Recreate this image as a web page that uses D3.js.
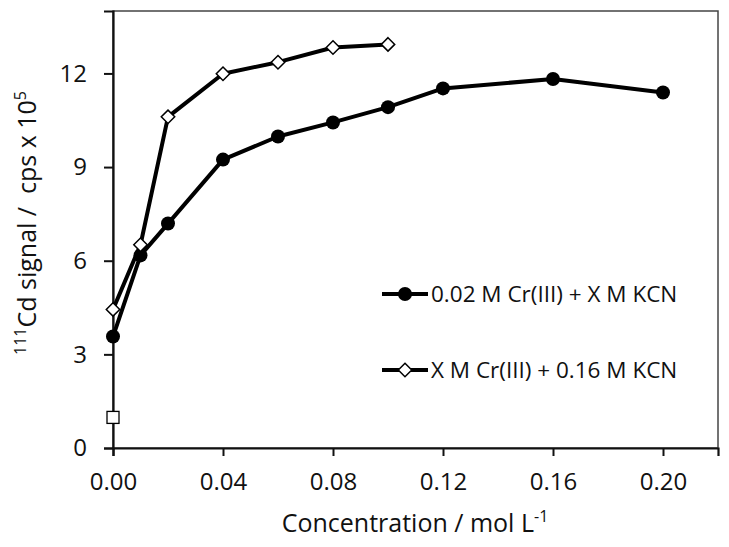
<!DOCTYPE html>
<html>
<head>
<meta charset="utf-8">
<script src="https://cdn.jsdelivr.net/npm/d3@7"></script>
<style>
body { margin:0; background:#fff; }
svg { font-family: "Open Sans", sans-serif; }
</style>
</head>
<body>
<svg id="chart" width="729" height="547"></svg>
<script>
/** data **/
var concA = [0, 0.01, 0.02, 0.04, 0.06, 0.08, 0.10, 0.12, 0.16, 0.20];
var signalA = [3.57, 6.17, 7.19, 9.24, 9.98, 10.43, 10.92, 11.52, 11.82, 11.39];
var concB = [0, 0.01, 0.02, 0.04, 0.06, 0.08, 0.10];
var signalB = [4.44, 6.51, 10.61, 11.99, 12.36, 12.83, 12.93];
var blankConc = [0];
var blankSignal = [0.98];
var xTicks = [0, 0.04, 0.08, 0.12, 0.16, 0.20];
var yTicks = [0, 3, 6, 9, 12];
var legendLabels = ["0.02 M Cr(III) + X M KCN", "X M Cr(III) + 0.16 M KCN"];

var svg = d3.select("#chart");
var pLeft = 113, pRight = 718, pTop = 11, pBottom = 448;

var x = d3.scaleLinear().domain([0, 0.22]).range([pLeft, pRight]);
var y = d3.scaleLinear().domain([0, 14]).range([pBottom, pTop]);

// frame
svg.append("rect")
	.attr("x", pLeft).attr("y", pTop)
	.attr("width", pRight - pLeft).attr("height", pBottom - pTop)
	.attr("fill", "none").attr("stroke", "#444").attr("stroke-width", 1.5);

// axes
var xAxis = svg.append("g")
	.attr("transform", "translate(0," + pBottom + ")")
	.call(d3.axisBottom(x).tickValues(xTicks).tickFormat(d3.format(".2f")).tickSizeOuter(0).tickSize(8).tickPadding(17));
var yAxis = svg.append("g")
	.attr("transform", "translate(" + pLeft + ",0)")
	.call(d3.axisLeft(y).tickValues(yTicks).tickSizeOuter(0).tickSize(9).tickPadding(17));

[xAxis, yAxis].forEach(function(a) {
	a.select(".domain").attr("stroke", "#111").attr("stroke-width", 2.2);
	a.selectAll(".tick line").attr("stroke", "#111").attr("stroke-width", 2);
	a.selectAll(".tick text").attr("font-size", 24).attr("fill", "#111")
		.attr("font-family", "Open Sans, sans-serif");
});

// titles
svg.append("text")
	.attr("x", 415).attr("y", 532)
	.attr("text-anchor", "middle").attr("font-size", 25).attr("fill", "#111")
	.html('Concentration / mol L<tspan dy="-10" font-size="16">-1</tspan>');

svg.append("text")
	.attr("transform", "translate(36," + 223 + ") rotate(-90)")
	.attr("text-anchor", "middle").attr("font-size", 25).attr("fill", "#111")
	.html('<tspan dy="-10" font-size="16">111</tspan><tspan dy="10">Cd signal /\u00a0 cps x 10</tspan><tspan dy="-10" font-size="16">5</tspan>');

var line = d3.line()
	.x(function(d) { return x(d[0]); })
	.y(function(d) { return y(d[1]); });

var ptsA = d3.zip(concA, signalA);
var ptsB = d3.zip(concB, signalB);

svg.append("path").datum(ptsB).attr("d", line)
	.attr("fill", "none").attr("stroke", "#000").attr("stroke-width", 4).attr("stroke-linejoin", "round");
svg.append("path").datum(ptsA).attr("d", line)
	.attr("fill", "none").attr("stroke", "#000").attr("stroke-width", 4).attr("stroke-linejoin", "round");

var diamond = d3.symbol().type(d3.symbolDiamond2).size(115);

svg.selectAll(".ca").data(ptsA).enter().append("circle")
	.attr("cx", function(d) { return x(d[0]); })
	.attr("cy", function(d) { return y(d[1]); })
	.attr("r", 7).attr("fill", "#000");

svg.selectAll(".db").data(ptsB).enter().append("path")
	.attr("d", diamond)
	.attr("transform", function(d) { return "translate(" + x(d[0]) + "," + y(d[1]) + ")"; })
	.attr("fill", "#fff").attr("stroke", "#000").attr("stroke-width", 1.5);

svg.selectAll(".bl").data(d3.zip(blankConc, blankSignal)).enter().append("rect")
	.attr("x", function(d) { return x(d[0]) - 6; })
	.attr("y", function(d) { return y(d[1]) - 6; })
	.attr("width", 12).attr("height", 12)
	.attr("fill", "#fff").attr("stroke", "#000").attr("stroke-width", 1.3);

// legend
var lg = svg.append("g");
legendLabels.forEach(function(t, i) {
	var ly = 294 + i * 76;
	lg.append("line").attr("x1", 382).attr("x2", 428).attr("y1", ly).attr("y2", ly)
		.attr("stroke", "#000").attr("stroke-width", 4);
	if (i == 0)
		lg.append("circle").attr("cx", 405).attr("cy", ly).attr("r", 7).attr("fill", "#000");
	else
		lg.append("path").attr("d", diamond).attr("transform", "translate(405," + ly + ")")
			.attr("fill", "#fff").attr("stroke", "#000").attr("stroke-width", 1.5);
	lg.append("text").attr("x", 431).attr("y", ly + 8).attr("font-size", 22.5).attr("fill", "#111").text(t);
});
</script>
</body>
</html>
